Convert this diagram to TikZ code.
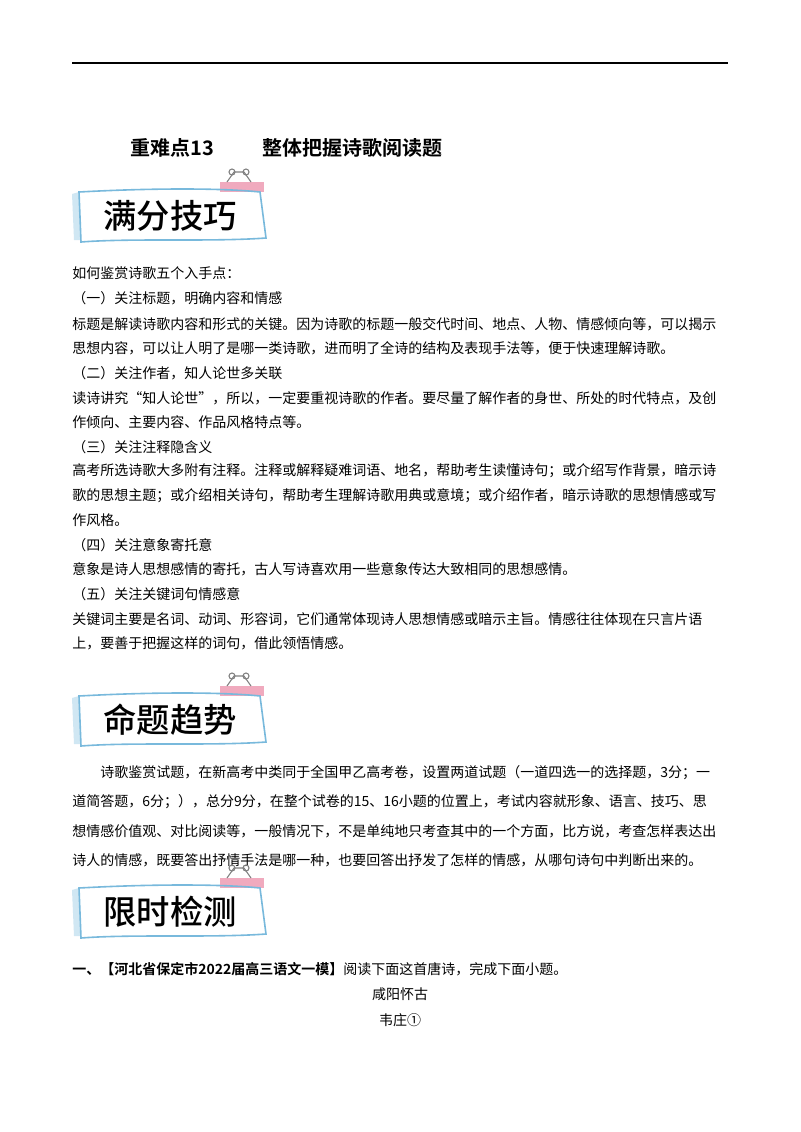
\documentclass[tikz,border=0pt]{standalone}
\usepackage{fontspec}
\setmainfont{Noto Sans CJK SC}
\newfontfamily\cjkb{Noto Sans CJK SC Bold}
\newfontfamily\cjkm{Noto Sans CJK SC Medium}
\definecolor{bannerblue}{RGB}{120,185,220}
\definecolor{tabpink}{RGB}{240,170,190}
\tikzset{
  line/.style={anchor=west,inner sep=0pt,font=\fontsize{10.5}{12}\selectfont},
  bannertxt/.style={font=\cjkm\fontsize{25}{28}\selectfont,inner sep=0pt}
}
\newcommand{\banner}[3]{%
  \fill[tabpink] (#1+148,#2+6) rectangle (#1+192,#2+16);
  \draw[gray,line width=0.8pt] (#1+155,#2+6) -- (#1+162,#2-4) -- (#1+172,#2-4) -- (#1+179,#2+6);
  \draw[gray,line width=0.8pt] (#1+160,#2-4) circle (3) (#1+174,#2-4) circle (3);
  \fill[bannerblue!35] (#1,#2+18) -- (#1+7,#2+16) -- (#1+9,#2+64) -- (#1+2,#2+64) -- cycle;
  \draw[bannerblue,line width=1.2pt] (#1+7,#2+16) .. controls (#1+80,#2+12) and (#1+150,#2+12) .. (#1+188,#2+16)
     -- (#1+194,#2+62) .. controls (#1+140,#2+66) and (#1+60,#2+62) .. (#1+9,#2+66) -- cycle;
  \node[bannertxt] (#3) at (#1+98,#2+40) {#3};
}
\begin{document}
\begin{tikzpicture}[x=0.75pt,y=-0.75pt]
\useasboundingbox (0,0) rectangle (800,1132);
\fill[white] (0,0) rectangle (800,1132);
\draw[line width=0.8pt] (72,63) -- (728,63);
\node[anchor=west,inner sep=0pt,font=\cjkb\fontsize{15}{18}\selectfont] (t1) at (130,148) {重难点13};
\node[anchor=west,inner sep=0pt,font=\cjkb\fontsize{15}{18}\selectfont] (t2) at (262,148) {整体把握诗歌阅读题};
\banner{72}{176}{满分技巧}
\node[line] (l1) at (72,273) {如何鉴赏诗歌五个入手点：};
\node[line] (l2) at (72,298) {（一）关注标题，明确内容和情感};
\node[line] (l3) at (72,324) {标题是解读诗歌内容和形式的关键。因为诗歌的标题一般交代时间、地点、人物、情感倾向等，可以揭示};
\node[line] (l4) at (72,348) {思想内容，可以让人明了是哪一类诗歌，进而明了全诗的结构及表现手法等，便于快速理解诗歌。};
\node[line] (l5) at (72,373) {（二）关注作者，知人论世多关联};
\node[line] (l6) at (72,398) {读诗讲究“知人论世”，所以，一定要重视诗歌的作者。要尽量了解作者的身世、所处的时代特点，及创};
\node[line] (l7) at (72,422) {作倾向、主要内容、作品风格特点等。};
\node[line] (l8) at (72,447) {（三）关注注释隐含义};
\node[line] (l9) at (72,471) {高考所选诗歌大多附有注释。注释或解释疑难词语、地名，帮助考生读懂诗句；或介绍写作背景，暗示诗};
\node[line] (l10) at (72,496) {歌的思想主题；或介绍相关诗句，帮助考生理解诗歌用典或意境；或介绍作者，暗示诗歌的思想情感或写};
\node[line] (l11) at (72,520) {作风格。};
\node[line] (l12) at (72,545) {（四）关注意象寄托意};
\node[line] (l13) at (72,569) {意象是诗人思想感情的寄托，古人写诗喜欢用一些意象传达大致相同的思想感情。};
\node[line] (l14) at (72,594) {（五）关注关键词句情感意};
\node[line] (l15) at (72,619) {关键词主要是名词、动词、形容词，它们通常体现诗人思想情感或暗示主旨。情感往往体现在只言片语};
\node[line] (l16) at (72,643) {上，要善于把握这样的词句，借此领悟情感。};
\banner{72}{680}{命题趋势}
\node[line] (p1) at (100,773) {诗歌鉴赏试题，在新高考中类同于全国甲乙高考卷，设置两道试题（一道四选一的选择题，3分；一};
\node[line] (p2) at (72,802) {道简答题，6分；），总分9分，在整个试卷的15、16小题的位置上，考试内容就形象、语言、技巧、思};
\node[line] (p3) at (72,831) {想情感价值观、对比阅读等，一般情况下，不是单纯地只考查其中的一个方面，比方说，考查怎样表达出};
\node[line] (p4) at (72,860) {诗人的情感，既要答出抒情手法是哪一种，也要回答出抒发了怎样的情感，从哪句诗句中判断出来的。};
\banner{72}{872}{限时检测}
\node[line] (q1) at (72,969) {{\cjkb 一、【河北省保定市2022届高三语文一模】}阅读下面这首唐诗，完成下面小题。};
\node[inner sep=0pt,font=\fontsize{10.5}{12}\selectfont] (q2) at (400,994) {咸阳怀古};
\node[inner sep=0pt,font=\fontsize{10.5}{12}\selectfont] (q3) at (400,1020) {韦庄①};
\end{tikzpicture}
\end{document}
